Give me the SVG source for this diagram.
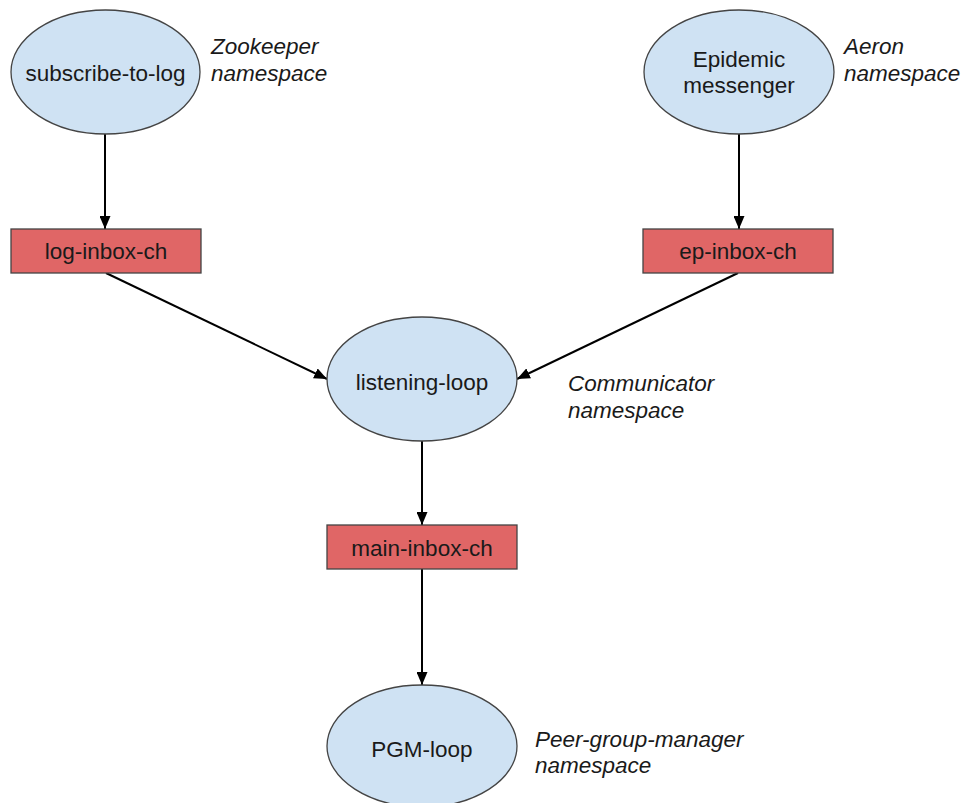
<svg xmlns="http://www.w3.org/2000/svg" width="963" height="803" viewBox="0 0 963 803">
  <style>
    .proc { fill: #cfe2f3; stroke: #444444; stroke-width: 1.3; }
    .chan { fill: #e06666; stroke: #444444; stroke-width: 1.3; }
    .lbl { font-family: "Liberation Sans", Arial, sans-serif; font-size: 22.5px; fill: #1a1a1a; text-anchor: middle; }
    .ns { font-family: "Liberation Sans", Arial, sans-serif; font-size: 22.5px; font-style: italic; fill: #1a1a1a; }
    .edge { stroke: #000000; stroke-width: 2; fill: none; marker-end: url(#head); }
  </style>
  <defs>
    <marker id="head" viewBox="0 0 13 11" refX="13" refY="5.5" markerWidth="13" markerHeight="11" markerUnits="userSpaceOnUse" orient="auto">
      <path d="M0,0 L13,5.5 L0,11 Z" fill="#000000"/>
    </marker>
  </defs>
  <rect width="963" height="803" fill="#ffffff"/>

  <g id="connectors">
    <line class="edge" x1="105" y1="134" x2="105" y2="229"/>
    <line class="edge" x1="739" y1="134" x2="739" y2="229"/>
    <line class="edge" x1="106" y1="273" x2="327" y2="379"/>
    <line class="edge" x1="738" y1="273" x2="517" y2="379"/>
    <line class="edge" x1="422" y1="441" x2="422" y2="525"/>
    <line class="edge" x1="422" y1="569" x2="422" y2="685"/>
  </g>

  <g id="subscribe-to-log">
    <ellipse class="proc" cx="105.5" cy="72" rx="94.5" ry="62"/>
    <text class="lbl" x="105.5" y="81">subscribe-to-log</text>
    <text class="ns" x="211" y="54">Zookeeper</text>
    <text class="ns" x="211" y="81">namespace</text>
  </g>

  <g id="epidemic-messenger">
    <ellipse class="proc" cx="739" cy="72" rx="95" ry="62"/>
    <text class="lbl" x="739" y="67">Epidemic</text>
    <text class="lbl" x="739" y="93">messenger</text>
    <text class="ns" x="844" y="54">Aeron</text>
    <text class="ns" x="844" y="81">namespace</text>
  </g>

  <g id="log-inbox-ch">
    <rect class="chan" x="11" y="229" width="190" height="44"/>
    <text class="lbl" x="106" y="259">log-inbox-ch</text>
  </g>

  <g id="ep-inbox-ch">
    <rect class="chan" x="643" y="229" width="190" height="44"/>
    <text class="lbl" x="738" y="259">ep-inbox-ch</text>
  </g>

  <g id="listening-loop">
    <ellipse class="proc" cx="422" cy="379" rx="95" ry="62"/>
    <text class="lbl" x="422" y="390">listening-loop</text>
    <text class="ns" x="568" y="391">Communicator</text>
    <text class="ns" x="568" y="418">namespace</text>
  </g>

  <g id="main-inbox-ch">
    <rect class="chan" x="327" y="525" width="190" height="44"/>
    <text class="lbl" x="422" y="556">main-inbox-ch</text>
  </g>

  <g id="pgm-loop">
    <ellipse class="proc" cx="422" cy="746" rx="95" ry="61"/>
    <text class="lbl" x="422" y="757">PGM-loop</text>
    <text class="ns" x="535" y="747">Peer-group-manager</text>
    <text class="ns" x="535" y="773">namespace</text>
  </g>
</svg>
